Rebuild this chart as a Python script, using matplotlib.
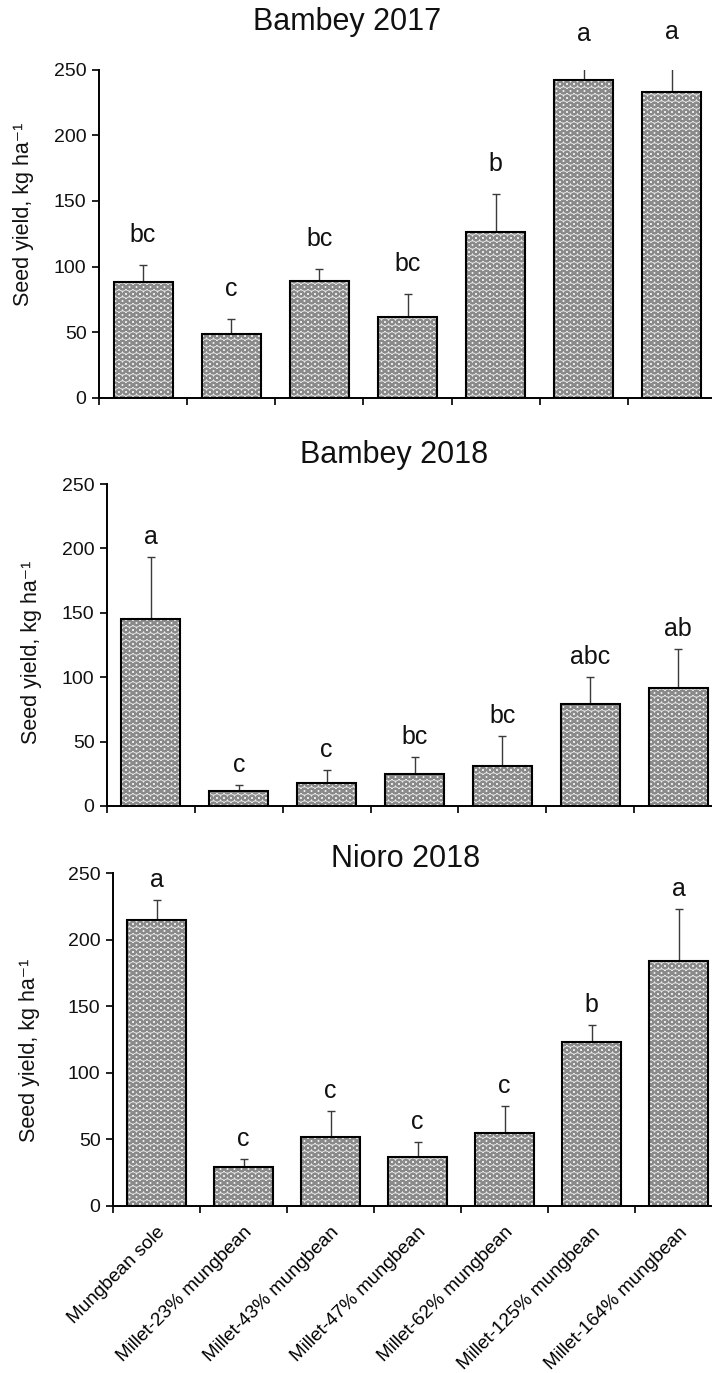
import numpy as np
import matplotlib
matplotlib.use("Agg")
import matplotlib.pyplot as plt

DPI = 126
def P(v):
    # sizes below are given as points at 100 dpi; convert to points at DPI
    return v * 100.0 / DPI

plt.rcParams['font.family'] = ['Liberation Sans', 'DejaVu Sans']
plt.rcParams['hatch.linewidth'] = P(1.45)
plt.rcParams['hatch.color'] = '#8a8a8a'

categories = ["Mungbean sole", "Millet-23% mungbean", "Millet-43% mungbean",
              "Millet-47% mungbean", "Millet-62% mungbean", "Millet-125% mungbean",
              "Millet-164% mungbean"]

titles = ["Bambey 2017", "Bambey 2018", "Nioro 2018"]

mean_b17 = [88, 49, 89, 62, 126, 242, 233]
err_b17 = [13, 11, 9, 17, 29, 12, 23]
let_b17 = ["bc", "c", "bc", "bc", "b", "a", "a"]

mean_b18 = [145, 12, 18, 25, 31, 79, 92]
err_b18 = [48, 4, 10, 13, 23, 21, 30]
let_b18 = ["a", "c", "c", "bc", "bc", "abc", "ab"]

mean_n18 = [215, 29, 52, 37, 55, 123, 184]
err_n18 = [15, 6, 19, 11, 20, 13, 39]
let_n18 = ["a", "c", "c", "c", "c", "b", "a"]

W, H = 712, 1373
fig = plt.figure(figsize=(W / DPI, H / DPI), dpi=DPI)

# axes boxes in pixels: left, top(250), bottom(0), right
boxes = [(99, 69.5, 398, 716), (107, 484, 806, 722), (113, 873, 1206, 722)]
title_pos = [(347, 22), (394, 455), (406, 859)]
ylab_pos = [(24, 214), (32, 652), (30, 1050)]
letter_off = [21.5, 14.5, 14.5]

data = [(mean_b17, err_b17, let_b17), (mean_b18, err_b18, let_b18),
        (mean_n18, err_n18, let_n18)]

x = np.arange(len(categories)) + 0.5
for k, ((l, t, b, r), (means, errs, lets)) in enumerate(zip(boxes, data)):
    ax = fig.add_axes([l / W, (H - b) / H, (r - l) / W, (b - t) / H])
    ax.bar(x, means, width=0.67, color='#eeeeee', edgecolor='#8a8a8a',
           hatch='OOO', linewidth=0, zorder=2)
    ax.bar(x, means, width=0.67, color='none', edgecolor='black',
           linewidth=P(1.5), zorder=3)
    ax.errorbar(x, means, yerr=[np.zeros(len(means)), errs], fmt='none',
                ecolor='#3a3a3a', elinewidth=P(1.0), capsize=P(3),
                capthick=P(1.0), zorder=1)
    for xi, m, e, s in zip(x, means, errs, lets):
        ax.annotate(s, (xi, m + e), xytext=(0, P(letter_off[k])),
                    textcoords='offset points', ha='center', va='center',
                    fontsize=P(18), color='#111111', annotation_clip=False)
    ax.set_xlim(0, 7)
    ax.set_ylim(0, 250)
    ax.set_yticks(np.arange(0, 251, 50))
    ax.set_xticks(np.arange(0, 8))
    ax.set_xticklabels([])
    ax.set_xticks(x, minor=True)
    for side in ['top', 'right']:
        ax.spines[side].set_visible(False)
    for side in ['left', 'bottom']:
        ax.spines[side].set_linewidth(P(1.4))
    ax.tick_params(axis='both', which='major', direction='out', length=P(5),
                   width=P(1.3), labelsize=P(14), pad=P(4), colors='#111111')
    ax.tick_params(axis='x', which='minor', length=0)
    if k == 2:
        ax.set_xticklabels(categories, minor=True, rotation=45, ha='right',
                           rotation_mode='anchor', fontsize=P(13.7))
        ax.tick_params(axis='x', which='minor', pad=P(13))
    fig.text(title_pos[k][0] / W, 1 - title_pos[k][1] / H, titles[k],
             ha='center', va='center', fontsize=P(22), color='#111111')
    fig.text(ylab_pos[k][0] / W, 1 - ylab_pos[k][1] / H, 'Seed yield, kg ha\u207b\u00b9',
             ha='center', va='center', rotation=90, fontsize=P(15.5), color='#111111')

fig.savefig('out.png', dpi=DPI)
